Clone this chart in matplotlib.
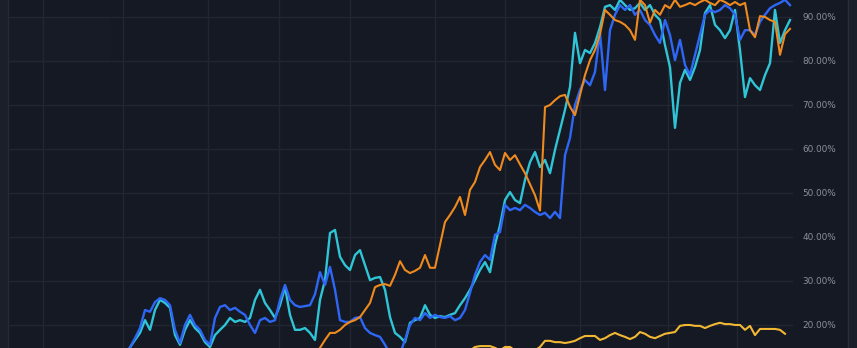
import matplotlib
matplotlib.use("Agg")
import matplotlib.pyplot as plt
import numpy as np
from matplotlib.patches import Rectangle
from matplotlib.lines import Line2D

# ---- data (percent values, one sample per step along the time axis) ----
blue = [14.9, 17, 19.3, 23.4, 23, 25.2, 26.1, 25.7, 24.5, 18.9, 15.9, 20, 22.3, 20, 18.9, 16.6, 15.5,
        21.6, 24.1, 24.5, 23.4, 23.9, 23, 22.3, 20, 18.2, 21.1, 21.6, 20.7, 21.1, 25.7, 29.1, 25.7,
        24.5, 24.1, 24.3, 24.5, 27, 32, 29.1, 33.2, 28, 21.1, 20.7, 20.7, 21.6, 21.8, 19.3, 18.2,
        17.7, 17.3, 15.5, 13.5, 13, 13.5, 16.6, 20, 21.6, 21.1, 22.7, 21.6, 22.3, 21.8, 21.6, 22,
        21.1, 21.6, 23.4, 27.3, 31.4, 34.3, 35.9, 34.8, 40.5, 41.1, 47.3, 46.1, 46.6, 46.1, 47.3,
        46.6, 45.7, 45, 45.5, 44.3, 45.7, 44.3, 58.6, 62.5, 70, 73.4, 75.7, 74.5, 77.5, 86.4, 73.4,
        87, 90.5, 92.7, 91.6, 92.7, 90.5, 91.6, 89.3, 88.2, 85.9, 84.1, 89.3, 85.9, 80.2, 84.8,
        79.1, 76.8, 81.4, 85.9, 90.5, 91.6, 91.1, 91.6, 92.7, 92, 90.5, 84.8, 87, 87, 85.9, 88.9,
        90.5, 92, 92.7, 93.2, 93.9, 92.7]

cyan = [14.9, 16.6, 18.2, 21.1, 18.9, 23.4, 25.7, 25, 23.9, 17.7, 15.5, 18.9, 21.1, 19.3, 18.2,
        16.1, 15, 17.7, 18.9, 20, 21.6, 20.7, 21.1, 20.7, 21.6, 25.7, 28, 25, 23.4, 21.6, 24.5,
        28.6, 22.3, 18.9, 18.9, 19.3, 18.2, 16.6, 25.7, 30.2, 40.9, 41.6, 35.5, 33.6, 32.5, 35.9,
        37, 33.6, 30.2, 30.7, 30.9, 28, 21.8, 18.2, 17.3, 16.1, 20.5, 21.1, 21.6, 24.5, 22.3, 21.6,
        22, 21.8, 22.3, 22.7, 24.5, 26.1, 28, 30.2, 32.5, 34.3, 32, 38.2, 42.7, 48.4, 50.2, 48.4,
        47.7, 53, 57, 59.3, 55.9, 57.5, 54.5, 59.8, 64.3, 68.9, 74.1, 86.4, 79.5, 82.5, 81.8, 84.1,
        87.7, 92.3, 92.7, 91.6, 93.9, 92.7, 91.6, 92, 93.2, 91.6, 92.7, 90.5, 89.3, 83.6, 78.6,
        64.8, 75, 78, 75.7, 78.6, 82.5, 90.9, 92.7, 88.2, 87, 85.2, 87, 91.6, 82.5, 71.8, 76.1,
        74.5, 73.4, 76.8, 79.5, 91.6, 84.1, 87, 89.3]

orange = [None] * 38 + [
        14.8, 16.6, 18.2, 18.2, 18.9, 20, 20.7, 21.1, 21.8, 23.4, 25, 28.6, 29.1, 29.3, 28.9, 31.4,
        34.5, 32.5, 31.8, 32.3, 33, 35.9, 33, 33, 38.2, 43.4, 45, 46.8, 49.1, 45, 50.7, 52.5, 55.9,
        57.5, 59.3, 56.4, 55.2, 59.1, 57.5, 58.6, 56.5, 54.5, 52, 49.5, 46, 69.5, 70, 71.1, 72,
        72.3, 69.6, 67.7, 72.3, 76.8, 80.2, 82.5, 86.1, 91.6, 90.5, 89.3, 88.9, 88.2, 87, 84.8,
        93.9, 92.7, 88.7, 91.6, 90.5, 92.7, 92, 93.9, 92.3, 92.7, 93.2, 92.7, 93.4, 93.9, 93.2,
        92.7, 93.9, 93.4, 92.7, 93.4, 92.7, 93.2, 87, 85.4, 90.2, 90, 89.3, 88.9, 81.4, 86.1, 87.3]

yellow = [None] * 68 + [
        14.2, 15, 15.2, 15.2, 15.2, 14.8, 14.2, 15, 15, 14.2, 13.8, 13.8, 14, 14.2, 15, 16.4, 16.4,
        16.1, 16.1, 15.9, 16.1, 16.4, 17, 17.5, 17.5, 17.5, 16.6, 17, 17.7, 18.2, 17.7, 17.3, 16.8,
        17.3, 18.4, 18, 17.3, 17, 17.5, 18, 18.2, 18.4, 19.8, 20, 20, 19.8, 19.8, 19.3, 19.8, 20.2,
        20.5, 20.2, 20.2, 20, 20, 18.9, 19.8, 17.7, 19.1, 19.1, 19.1, 19.1, 18.9, 18, None]

y_ticks = [20, 30, 40, 50, 60, 70, 80, 90]
y_tick_labels = ["20.00%", "30.00%", "40.00%", "50.00%", "60.00%", "70.00%", "80.00%", "90.00%"]

# ---- styling / layout ----
BG = "#151923"
W, H = 857, 348
fig = plt.figure(figsize=(W / 100, H / 100), dpi=100, facecolor=BG)

# side strips
fig.patches.append(Rectangle((0, 0), 8 / W, 1, transform=fig.transFigure, color="#1b1f2a", zorder=0))
fig.lines.append(Line2D([8 / W, 8 / W], [0, 1], transform=fig.transFigure, color="#262a36", lw=1))
fig.patches.append(Rectangle((848 / W, 0), 9 / W, 1, transform=fig.transFigure, color="#1b1f2a", zorder=0))
fig.lines.append(Line2D([848 / W, 848 / W], [0, 1], transform=fig.transFigure, color="#2a2e3a", lw=1))

ax = fig.add_axes([9 / W, 0, (793 - 9) / W, 1])
ax.set_facecolor(BG)
for s in ax.spines.values():
    s.set_visible(False)

n = len(blue)
x = np.arange(n)

def arr(v):
    return np.array([np.nan if a is None else a for a in v], dtype=float)

ax.plot(x, arr(yellow), color="#f2b833", lw=1.5, zorder=5, solid_joinstyle="round")
ax.plot(x, arr(cyan), color="#2fc4d6", lw=1.7, zorder=3, solid_joinstyle="round")
ax.plot(x, arr(blue), color="#2e67f5", lw=1.7, zorder=4, solid_joinstyle="round")
ax.plot(x, arr(orange), color="#ef8a1e", lw=1.5, zorder=4.5, solid_joinstyle="round")

ax.set_xlim((9 - 130) / 5, (793 - 130) / 5)
ax.set_ylim(14.77, 93.86)

ax.set_yticks(y_ticks)
ax.set_yticklabels(y_tick_labels)
ax.yaxis.tick_right()
ax.tick_params(axis="y", length=0, pad=7, labelsize=6.4, labelcolor="#8c909c")
ax.set_xticks([(p - 130) / 5 for p in (43, 123, 208, 279, 350, 435, 505, 580, 668, 737)])
ax.tick_params(axis="x", length=0, labelbottom=False)
ax.grid(True, color="#222633", lw=1)
ax.set_axisbelow(True)

# very faint ghost of a legend box in the corner
ax.add_patch(Rectangle((1 / W, 1 - 62 / H), 108 / W, 44 / H, transform=fig.transFigure,
                       color="#171b25", zorder=0.5))

fig.savefig("out.png", dpi=100, facecolor=BG)
